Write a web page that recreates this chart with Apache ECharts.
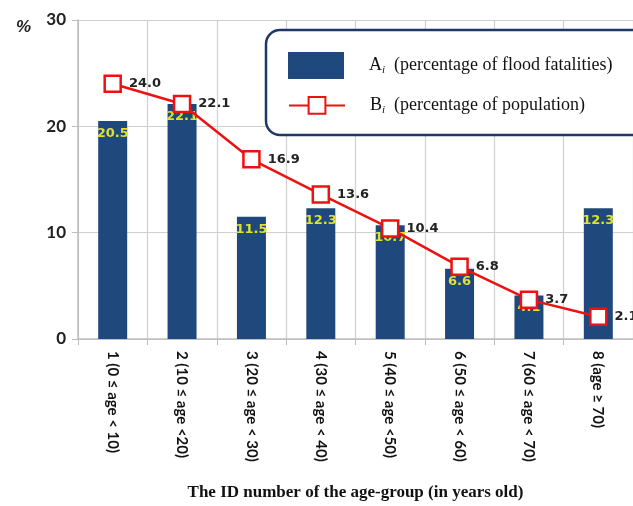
<!DOCTYPE html>
<html>
<head>
<meta charset="utf-8">
<script src="https://cdn.jsdelivr.net/npm/echarts@6/dist/echarts.min.js"></script>
<style>
html, body { margin: 0; padding: 0; background: #fff; }
#chart { width: 633px; height: 506px; }
</style>
</head>
<body>
<div id="chart"></div>
<script>
// age groups
const categories = [
    '1 (0 ≤ age < 10)',
    '2 (10 ≤ age <20)',
    '3 (20 ≤ age < 30)',
    '4 (30 ≤ age < 40)',
    '5 (40 ≤ age <50)',
    '6 (50 ≤ age < 60)',
    '7 (60 ≤ age < 70)',
    '8 (age ≥ 70)'
];
// A_i: percentage of flood fatalities
const fatalities = [20.5, 22.1, 11.5, 12.3, 10.7, 6.6, 4.1, 12.3];
// B_i: percentage of population
const population = [24.0, 22.1, 16.9, 13.6, 10.4, 6.8, 3.7, 2.1];
const yTicks = [0, 10, 20, 30];
const legendText = {
    A: '(percentage of flood fatalities)',
    B: '(percentage of population)'
};

const chart = echarts.init(document.getElementById('chart'));

const legendFormatter = function (name) {
    return '{m|' + name + '}{s|i}{m|  ' + legendText[name] + '}';
};
const legendTextStyle = {
    padding: [0, 0, 0, 20],
    rich: {
        m: { fontFamily: 'Liberation Serif', fontSize: 18, color: '#111' },
        s: { fontFamily: 'Liberation Serif', fontSize: 11, fontStyle: 'italic', color: '#111', padding: [9, 0, 0, 0] }
    }
};

const option = {
    backgroundColor: '#fff',
    animation: false,
    title: {
        text: '%',
        left: 11,
        top: 14,
        textStyle: {
            fontFamily: 'Liberation Sans',
            fontStyle: 'italic',
            fontWeight: 'bold',
            fontSize: 17,
            color: '#222'
        }
    },
    graphic: [{
        type: 'rect',
        z: 1,
        shape: { x: 266, y: 30, width: 390, height: 105, r: 14 },
        style: { fill: '#fff', stroke: '#1f3864', lineWidth: 2.5 }
    }],
    legend: [
        {
            left: 288,
            top: 52,
            padding: 0,
            itemWidth: 56,
            itemHeight: 27,
            z: 5,
            data: [{ name: 'A', icon: 'rect' }],
            formatter: legendFormatter,
            textStyle: legendTextStyle
        },
        {
            left: 288,
            top: 96,
            padding: 0,
            itemWidth: 56,
            itemHeight: 21,
            z: 5,
            data: ['B'],
            formatter: legendFormatter,
            textStyle: legendTextStyle
        }
    ],
    grid: {
        left: 78,
        top: 20,
        width: 560,
        height: 321
    },
    xAxis: {
        type: 'category',
        data: categories,
        name: 'The ID number of the age-group (in years old)',
        nameLocation: 'middle',
        nameGap: 145,
        nameTextStyle: {
            fontFamily: 'Liberation Serif',
            fontWeight: 'bold',
            fontSize: 17,
            color: '#111'
        },
        axisLine: { lineStyle: { color: '#bdbdbd', width: 1.5 } },
        axisTick: { show: true, length: 6, lineStyle: { color: '#bdbdbd' } },
        splitLine: { show: true, lineStyle: { color: '#d0d0d0', width: 1.2 } },
        axisLabel: {
            rotate: -90,
            margin: 12,
            interval: 0,
            fontFamily: 'Lato',
            fontWeight: 'bold',
            fontSize: 15,
            color: '#111'
        }
    },
    yAxis: {
        type: 'value',
        min: yTicks[0],
        max: yTicks[yTicks.length - 1],
        interval: 10,
        axisLine: { show: true, lineStyle: { color: '#bdbdbd', width: 1.5 } },
        axisTick: { show: true, length: 6, lineStyle: { color: '#bdbdbd' } },
        splitLine: { show: true, lineStyle: { color: '#d0d0d0', width: 1.2 } },
        axisLabel: {
            margin: 12,
            fontFamily: 'Lato',
            fontWeight: 'bold',
            fontSize: 17,
            color: '#222'
        }
    },
    series: [
        {
            name: 'A',
            type: 'bar',
            data: fatalities,
            barWidth: 29,
            itemStyle: { color: '#1f497d' },
            label: {
                show: true,
                position: 'insideTop',
                distance: 6,
                formatter: p => p.value.toFixed(1),
                fontFamily: 'DejaVu Sans',
                fontWeight: 'bold',
                fontSize: 13,
                color: '#dfe12c'
            }
        },
        {
            name: 'B',
            type: 'line',
            data: population,
            z: 3,
            symbol: 'rect',
            symbolSize: 16,
            itemStyle: { color: '#fff', borderColor: '#ee1111', borderWidth: 2.5 },
            lineStyle: { color: '#ee1111', width: 2.5 },
            label: {
                show: true,
                position: 'right',
                distance: 7,
                formatter: p => p.value.toFixed(1),
                fontFamily: 'DejaVu Sans',
                fontWeight: 'bold',
                fontSize: 13,
                color: '#222'
            }
        }
    ]
};

chart.setOption(option);
</script>
</body>
</html>
